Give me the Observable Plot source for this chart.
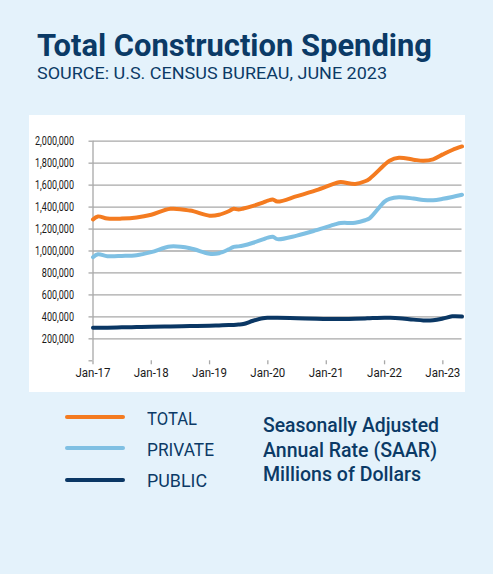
<!DOCTYPE html>
<html><head><meta charset="utf-8">
<script src="https://cdn.jsdelivr.net/npm/d3@7"></script>
<script src="https://cdn.jsdelivr.net/npm/@observablehq/plot@0.6"></script>
<style>
html,body{margin:0;padding:0;}
body{width:493px;height:574px;background:#e4f2fb;position:relative;overflow:hidden;font-family:Roboto,"Liberation Sans",sans-serif;color:#0b3a66;}
.abs{position:absolute;white-space:nowrap;transform-origin:0 0;line-height:1;}
#panel{position:absolute;left:29px;top:115px;width:436px;height:277px;background:#fff;}
.sw{position:absolute;height:4px;border-radius:2px;width:60px;left:65px;}
</style></head><body>
<div id="title" class="abs" style="left:37px;top:29px;font-size:32px;font-weight:700;">Total Construction Spending</div>
<div id="sub" class="abs" style="left:37px;top:64.5px;font-size:17.3px;font-weight:400;">SOURCE: U.S. CENSUS BUREAU, JUNE 2023</div>
<div id="panel"></div>
<div id="legend"></div>
<div id="note"></div>
<script>
// months since Jan 2017
const months = [0,1,3,6,9,12,16,20,24,26,28,29,30,31,33,35,36,37,38,42,46,50,51,54,56,57,60,61,63,66,68,70,72,74,76];
const totalValues = [1287000,1315000,1295000,1295000,1305000,1330000,1384000,1368000,1322000,1330000,1362000,1385000,1378000,1387000,1411000,1440000,1458000,1470000,1450000,1500000,1555000,1618000,1628000,1610000,1635000,1660000,1785000,1822000,1849000,1832000,1822000,1835000,1880000,1920000,1952000];
const privateValues = [944000,970000,953000,955000,962000,990000,1041000,1025000,975000,980000,1015000,1038000,1042000,1050000,1075000,1105000,1122000,1130000,1108000,1140000,1190000,1245000,1255000,1258000,1280000,1300000,1450000,1475000,1490000,1478000,1465000,1462000,1475000,1492000,1512000];
const publicValues = [300000,300000,302000,305000,307000,310000,313000,316000,320000,322000,325000,327000,330000,335000,365000,388000,392000,392000,392000,388000,383000,380000,380000,383000,386000,388000,393000,392000,388000,375000,368000,370000,385000,405000,403000];
const seriesNames = ["TOTAL","PRIVATE","PUBLIC"];
const seriesColors = ["#f47b20","#7fc0e3","#0a3764"];
const yTicks = [0,200000,400000,600000,800000,1000000,1200000,1400000,1600000,1800000,2000000];
const xTickYears = [2017,2018,2019,2020,2021,2022,2023];
const noteLines = ["Seasonally Adjusted","Annual Rate (SAAR)","Millions of Dollars"];

const seriesValues = [totalValues, privateValues, publicValues];
const data = [];
seriesNames.forEach((s, i) => months.forEach((m, j) => data.push({series: s, date: new Date(Date.UTC(2017, m, 1)), value: seriesValues[i][j]})));
const xTicks = xTickYears.map(y => new Date(Date.UTC(y, 0, 1)));
const grid = "#a8a8a8";

const chart = Plot.plot({
  width: 436, height: 277,
  marginLeft: 63.5, marginRight: 3.5, marginTop: 25.7, marginBottom: 31.7,
  style: {background: "transparent", fontFamily: "Roboto, sans-serif", fontSize: "12px", color: "#1a1a1a", overflow: "visible"},
  x: {type: "utc", domain: [new Date(Date.UTC(2017,0,1)), new Date(Date.UTC(2017,76,1))], label: null},
  y: {domain: [0, 2000000], label: null},
  color: {domain: seriesNames, range: seriesColors},
  marks: [
    Plot.ruleY(yTicks.filter(d => d > 0), {stroke: grid, strokeWidth: 1.3}),
    Plot.ruleX([xTicks[0]], {y1: 0, y2: 2000000, stroke: grid, strokeWidth: 1.3}),
    Plot.axisY(yTicks, {tickSize: 4, tickPadding: 15, stroke: grid, strokeWidth: 1.3, fill: "#1a1a1a", label: null, tickFormat: d => d === 0 ? "" : d3.format(",")(d)}),
    Plot.axisX(xTicks, {tickSize: 4, tickPadding: 4, stroke: grid, strokeWidth: 1.3, fill: "#1a1a1a", label: null, tickFormat: d3.utcFormat("%b-%y")}),
    Plot.line(data, {x: "date", y: "value", z: "series", stroke: "series", strokeWidth: 4, curve: "catmull-rom", strokeLinecap: "round", strokeLinejoin: "round"})
  ]
});
document.getElementById("panel").appendChild(chart);

// condense tick labels to resemble the original narrow face
function condense(sel, refText, w) {
  const labels = [...chart.querySelectorAll(sel)];
  const ref = labels.find(t => t.textContent === refText);
  if (!ref) return;
  const s = w / ref.getComputedTextLength();
  labels.forEach(t => t.setAttribute("transform", (t.getAttribute("transform") || "") + ` scale(${s},1)`));
}
condense('g[aria-label="y-axis tick label"] text', "2,000,000", 39);
condense('g[aria-label="x-axis tick label"] text', "Jan-17", 35);

// legend
const legend = document.getElementById("legend");
const swY = [416.7, 448.3, 479.5];
const labTop = [409.5, 441, 471.5];
seriesNames.forEach((s, i) => {
  const sw = document.createElement("div");
  sw.className = "sw"; sw.style.top = (swY[i] - 2) + "px"; sw.style.background = seriesColors[i];
  legend.appendChild(sw);
  const t = document.createElement("div");
  t.className = "abs"; t.textContent = s;
  t.style.left = "147px"; t.style.top = labTop[i] + "px"; t.style.fontSize = "18.5px"; t.style.fontWeight = "400";
  legend.appendChild(t);
});
const note = document.getElementById("note");
const noteTop = [414.5, 439.5, 464];
const noteW = [176, 174, 158];
noteLines.forEach((l, i) => {
  const t = document.createElement("div");
  t.className = "abs"; t.textContent = l;
  t.style.left = "263px"; t.style.top = noteTop[i] + "px"; t.style.fontSize = "20.5px"; t.style.fontWeight = "500";
  note.appendChild(t);
  t.dataset.w = noteW[i];
});
function fit(el, w) {
  const r = el.getBoundingClientRect().width;
  if (r > 0) el.style.transform = `scaleX(${w / r})`;
}
fit(document.getElementById("title"), 395);
fit(document.getElementById("sub"), 350);
[...note.children].forEach(t => fit(t, +t.dataset.w));
const legW = [50, 67, 60];
[...legend.querySelectorAll(".abs")].forEach((t, i) => fit(t, legW[i]));
</script>
</body></html>
